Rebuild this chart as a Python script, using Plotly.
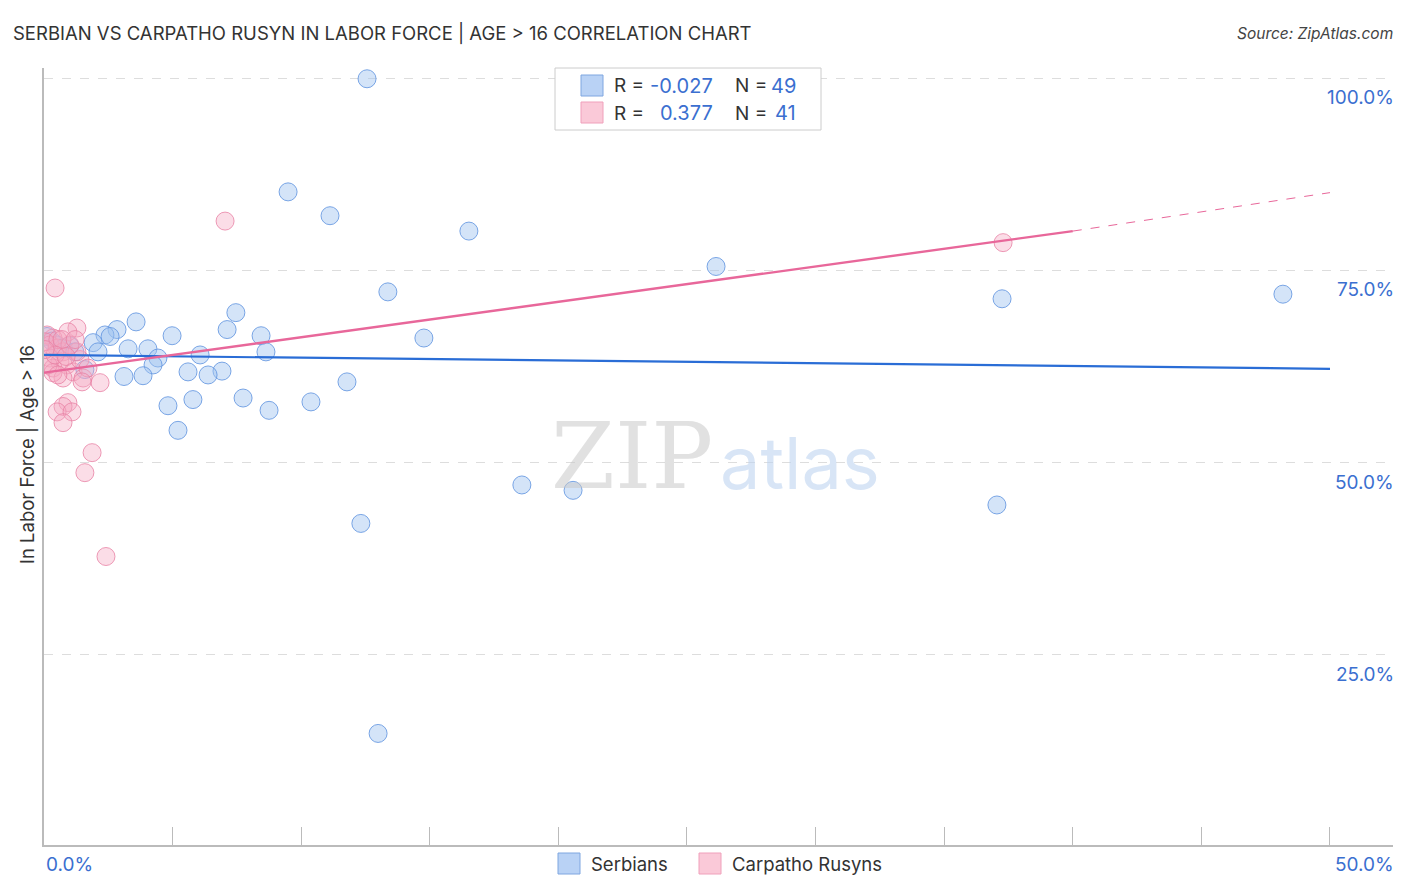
import plotly.graph_objects as go

# ---- data ----
serb_x = [12.56, 9.49, 11.12, 16.52, 26.13, 37.25, 48.17, 13.37, 7.46, 3.58,
          2.84, 2.37, 2.57, 4.98, 7.12, 8.44, 14.77, 1.91, 3.27, 4.04,
          2.10, 8.63, 6.07, 4.43, 4.24, 1.59, 5.60, 6.92, 6.38, 3.11,
          3.85, 11.78, 4.82, 5.79, 7.74, 10.38, 8.75, 5.21, 18.58, 20.57,
          37.05, 12.32, 12.99, 0.12, 0.30, 0.50, 0.75, 1.00, 1.20]
serb_y = [99.9, 85.2, 82.1, 80.1, 75.5, 71.3, 71.9, 72.2, 69.5, 68.3,
          67.3, 66.6, 66.4, 66.5, 67.3, 66.5, 66.2, 65.6, 64.8, 64.8,
          64.4, 64.4, 64.0, 63.6, 62.7, 62.1, 61.8, 61.9, 61.4, 61.2,
          61.3, 60.5, 57.4, 58.2, 58.4, 57.9, 56.8, 54.2, 47.1, 46.4,
          44.5, 42.1, 14.8, 66.4, 65.8, 65.3, 64.9, 65.2, 64.4]

rus_x = [7.04, 37.29, 0.43, 1.28, 0.93, 0.35, 0.12, 0.23, 0.51, 0.74,
         0.23, 0.62, 0.35, 0.89, 1.13, 1.52, 1.40, 2.18, 0.74, 1.28,
         0.35, 0.93, 0.74, 0.51, 1.09, 0.74, 1.87, 1.59, 2.41, 0.04,
         0.54, 1.01, 0.16, 0.70, 0.43, 1.71, 0.04, 0.86, 1.48, 0.54, 1.21]
rus_y = [81.4, 78.6, 72.7, 67.5, 67.0, 66.2, 66.6, 65.3, 64.9, 64.4,
         63.6, 63.1, 62.3, 62.7, 61.8, 61.0, 63.4, 60.4, 61.0, 64.4,
         61.7, 57.8, 57.3, 56.6, 56.6, 55.2, 51.3, 48.7, 37.8, 65.7,
         66.0, 65.3, 62.7, 66.0, 64.0, 62.3, 64.7, 63.8, 60.5, 61.4, 66.0]

serb_trend_x = [0, 50]
serb_trend_y = [64.0, 62.2]
rus_trend_solid_x = [0, 40]
rus_trend_solid_y = [61.7, 80.1]
rus_trend_dash_x = [40, 50]
rus_trend_dash_y = [80.1, 85.1]

y_ticks = [25, 50, 75, 100]
y_tick_labels = ["25.0%", "50.0%", "75.0%", "100.0%"]
x_tick_vals = [0, 5, 10, 15, 20, 25, 30, 35, 40, 45, 50]

BLUE_TXT = "#3b6fd0"
FONT = "Inter"

# page renders with an 8px body margin; work in reference pixel coords
OFF = 8
W, H = 1406 - OFF, 892 - OFF
ML, MR, MT, MB = 44 - OFF, 13, 68 - OFF, 47
PW = W - ML - MR
PH = H - MT - MB


def px(x):
    return (x - OFF - ML) / PW


def py(y):
    return (H - MB - (y - OFF)) / PH


fig = go.Figure()

fig.add_trace(go.Scatter(
    x=serb_x, y=serb_y, mode="markers", name="Serbians",
    marker=dict(size=18, color="rgba(160,195,240,0.45)",
                line=dict(color="rgba(100,150,225,0.85)", width=1)),
    showlegend=False))
fig.add_trace(go.Scatter(
    x=rus_x, y=rus_y, mode="markers", name="Carpatho Rusyns",
    marker=dict(size=18, color="rgba(245,170,195,0.40)",
                line=dict(color="rgba(232,130,165,0.8)", width=1)),
    showlegend=False))

fig.add_trace(go.Scatter(x=serb_trend_x, y=serb_trend_y, mode="lines",
                         line=dict(color="#2a6dd6", width=2.2), showlegend=False,
                         hoverinfo="skip"))
fig.add_trace(go.Scatter(x=rus_trend_solid_x, y=rus_trend_solid_y, mode="lines",
                         line=dict(color="#e8679a", width=2.4), showlegend=False,
                         hoverinfo="skip"))
fig.add_trace(go.Scatter(x=rus_trend_dash_x, y=rus_trend_dash_y, mode="lines",
                         line=dict(color="#e8679a", width=1, dash="dash"),
                         showlegend=False, hoverinfo="skip"))

XMAX = 52.45
fig.update_xaxes(range=[0, XMAX], showgrid=False, zeroline=False,
                 showline=True, linecolor="#bbbbbb", linewidth=1.5,
                 tickmode="array", tickvals=x_tick_vals, showticklabels=False,
                 ticks="inside", ticklen=18, tickcolor="#bbbbbb", tickwidth=1)
fig.update_yaxes(range=[0.3, 101.3], showgrid=True, gridcolor="#dddddd",
                 griddash="dash", gridwidth=1, zeroline=False,
                 tickmode="array", tickvals=y_ticks, showticklabels=False,
                 showline=True, linecolor="#bbbbbb", linewidth=1.5)

annotations = []
for v, lab in zip(y_ticks, y_tick_labels):
    annotations.append(dict(x=1, xref="paper", y=v, yref="y", text=lab,
                            showarrow=False, xanchor="right", yanchor="top",
                            yshift=-6, xshift=3, font=dict(family=FONT, size=19, color=BLUE_TXT)))
annotations.append(dict(x=0, xref="paper", y=py(864), yref="paper", text="0.0%",
                        showarrow=False, xanchor="left", yanchor="middle",
                        font=dict(family=FONT, size=19, color=BLUE_TXT)))
annotations.append(dict(x=1, xref="paper", y=py(864), yref="paper", text="50.0%",
                        showarrow=False, xanchor="right", yanchor="middle", xshift=3,
                        font=dict(family=FONT, size=19, color=BLUE_TXT)))

annotations.append(dict(x=px(11), xref="paper", y=py(33), yref="paper",
                        text="SERBIAN VS CARPATHO RUSYN IN LABOR FORCE | AGE > 16 CORRELATION CHART",
                        showarrow=False, xanchor="left", yanchor="middle",
                        font=dict(family=FONT, size=18.5, color="#333333")))
annotations.append(dict(x=px(1395), xref="paper", y=py(33), yref="paper",
                        text="<i>Source: ZipAtlas.com</i>", showarrow=False,
                        xanchor="right", yanchor="middle",
                        font=dict(family=FONT, size=15.5, color="#444444")))
annotations.append(dict(x=px(27), xref="paper", y=py(455), yref="paper",
                        text="In Labor Force | Age > 16", textangle=-90, showarrow=False,
                        xanchor="center", yanchor="middle",
                        font=dict(family=FONT, size=18.5, color="#333333")))
# watermark
annotations.append(dict(x=px(715), xref="paper", y=py(456), yref="paper",
                        text="ZIP", showarrow=False, xanchor="right", yanchor="middle",
                        font=dict(family="DejaVu Serif", size=92, color="rgba(200,200,200,0.55)")))
annotations.append(dict(x=px(718), xref="paper", y=py(462), yref="paper",
                        text="atlas", showarrow=False, xanchor="left", yanchor="middle",
                        font=dict(family=FONT, size=72, color="rgba(190,212,240,0.6)")))

shapes = []
shapes.append(dict(type="rect", xref="paper", yref="paper",
                   x0=px(555), x1=px(821), y0=py(130), y1=py(68),
                   line=dict(color="#cccccc", width=1), fillcolor="white", layer="above"))
shapes.append(dict(type="rect", xref="paper", yref="paper",
                   x0=px(581), x1=px(603), y0=py(96), y1=py(75),
                   line=dict(color="#7ea6e0", width=1), fillcolor="#b9d2f5", layer="above"))
shapes.append(dict(type="rect", xref="paper", yref="paper",
                   x0=px(581), x1=px(603), y0=py(123), y1=py(102),
                   line=dict(color="#f0a0bb", width=1), fillcolor="#fac9d8", layer="above"))
legend_rows = [("-0.027", "49", 86), ("0.377", "41", 113)]
for rv, nv, yy in legend_rows:
    annotations.append(dict(x=px(612), xref="paper", y=py(yy), yref="paper",
                            text="R =", showarrow=False, xanchor="left", yanchor="middle",
                            font=dict(family=FONT, size=19, color="#333333")))
    annotations.append(dict(x=px(715), xref="paper", y=py(yy), yref="paper",
                            text=rv, showarrow=False, xanchor="right", yanchor="middle",
                            font=dict(family=FONT, size=20, color=BLUE_TXT)))
    annotations.append(dict(x=px(733), xref="paper", y=py(yy), yref="paper",
                            text="N =", showarrow=False, xanchor="left", yanchor="middle",
                            font=dict(family=FONT, size=19, color="#333333")))
    annotations.append(dict(x=px(798), xref="paper", y=py(yy), yref="paper",
                            text=nv, showarrow=False, xanchor="right", yanchor="middle",
                            font=dict(family=FONT, size=20, color=BLUE_TXT)))

shapes.append(dict(type="rect", xref="paper", yref="paper",
                   x0=px(558), x1=px(580), y0=py(874), y1=py(853),
                   line=dict(color="#7ea6e0", width=1), fillcolor="#b9d2f5"))
shapes.append(dict(type="rect", xref="paper", yref="paper",
                   x0=px(699), x1=px(721), y0=py(874), y1=py(853),
                   line=dict(color="#f0a0bb", width=1), fillcolor="#fac9d8"))
annotations.append(dict(x=px(589), xref="paper", y=py(864), yref="paper",
                        text="Serbians", showarrow=False, xanchor="left", yanchor="middle",
                        font=dict(family=FONT, size=18.5, color="#333333")))
annotations.append(dict(x=px(730), xref="paper", y=py(864), yref="paper",
                        text="Carpatho Rusyns", showarrow=False, xanchor="left", yanchor="middle",
                        font=dict(family=FONT, size=18.5, color="#333333")))

fig.update_layout(
    width=W, height=H,
    margin=dict(l=ML, r=MR, t=MT, b=MB),
    paper_bgcolor="white", plot_bgcolor="white",
    font=dict(family=FONT, color="#333333"),
    annotations=annotations, shapes=shapes,
)

fig.write_html("out.html")
